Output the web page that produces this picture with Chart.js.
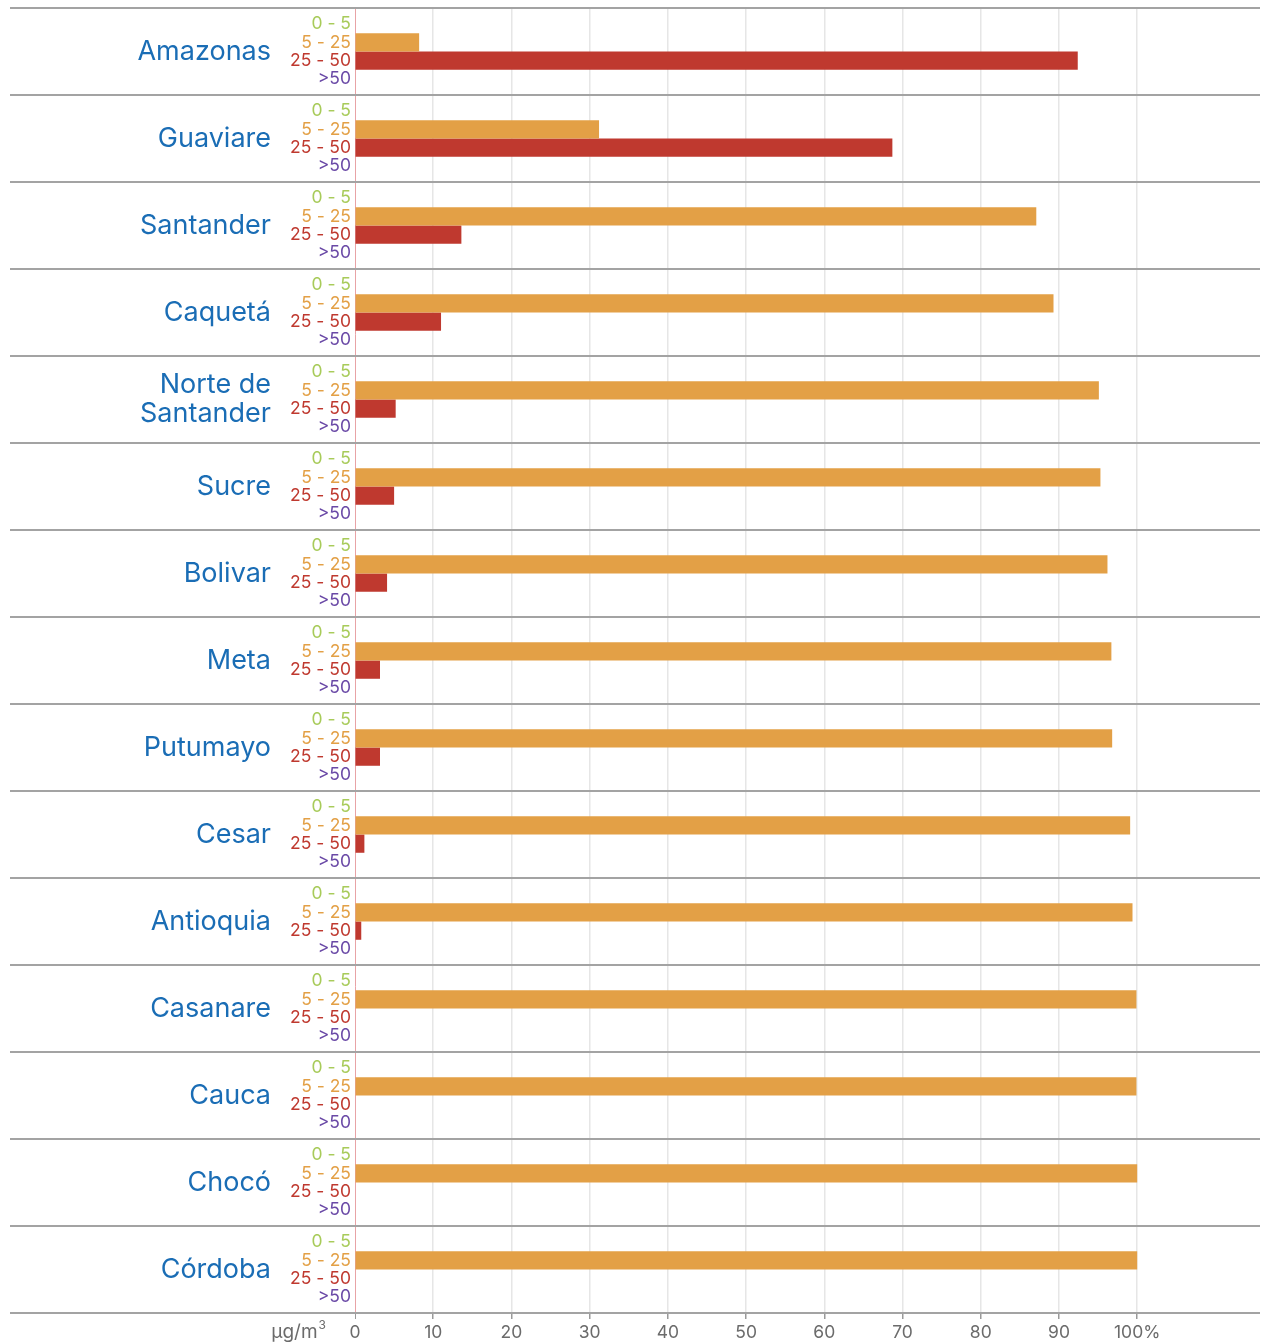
<!DOCTYPE html>
<html>
<head>
<meta charset="utf-8">
<script src="https://cdn.jsdelivr.net/npm/chart.js@4.4.1/dist/chart.umd.min.js"></script>
<style>
  html, body { margin: 0; padding: 0; background: #fff; overflow: hidden; }
  canvas { display: block; }
</style>
</head>
<body>
<canvas id="pmChart" width="1261" height="1344"></canvas>
<script>
const departamentos = [
  "Amazonas", "Guaviare", "Santander", "Caquetá", ["Norte de", "Santander"],
  "Sucre", "Bolivar", "Meta", "Putumayo", "Cesar",
  "Antioquia", "Casanare", "Cauca", "Chocó", "Córdoba"
];

const rangos = ["0 - 5", "5 - 25", "25 - 50", ">50"];
const coloresRango = ["#a8cb5a", "#e3a046", "#bf392f", "#6a49a6"];

// porcentaje de estaciones por rango de concentración
const rango0a5   = [0, 0, 0, 0, 0, 0, 0, 0, 0, 0, 0, 0, 0, 0, 0];
const rango5a25  = [8.2, 31.2, 87.1, 89.3, 95.1, 95.3, 96.2, 96.7, 96.8, 99.1, 99.4, 99.9, 99.9, 100, 100];
const rango25a50 = [92.4, 68.7, 13.6, 11.0, 5.2, 5.0, 4.1, 3.2, 3.2, 1.2, 0.8, 0, 0, 0, 0];
const rangoMas50 = [0, 0, 0, 0, 0, 0, 0, 0, 0, 0, 0, 0, 0, 0, 0];

const xTicks = [0, 10, 20, 30, 40, 50, 60, 70, 80, 90, 100];
const unidad = "µg/m";
const unidadExp = "3";

const FONT = "Inter, 'Open Sans', sans-serif";

// separadores horizontales, etiquetas de rango y unidad
const decoraciones = {
  id: 'decoraciones',
  afterDraw(chart) {
    const ctx = chart.ctx;
    const area = chart.chartArea;
    const y = chart.scales.y;
    const n = departamentos.length;
    const paso = (y.bottom - y.top) / n;

    ctx.save();
    ctx.strokeStyle = '#a3a3a3';
    ctx.lineWidth = 2;
    for (let k = 0; k <= n; k++) {
      const py = Math.round(y.top + k * paso);
      ctx.beginPath();
      ctx.moveTo(10, py);
      ctx.lineTo(area.right, py);
      ctx.stroke();
    }

    ctx.font = "17.5px " + FONT;
    ctx.textAlign = 'right';
    ctx.textBaseline = 'middle';
    chart.data.datasets.forEach((ds, d) => {
      const meta = chart.getDatasetMeta(d);
      ctx.fillStyle = coloresRango[d];
      meta.data.forEach(bar => {
        ctx.fillText(rangos[d], area.left - 4, bar.y);
      });
    });

    // unidad con exponente
    ctx.fillStyle = '#6b6b6b';
    ctx.textAlign = 'right';
    ctx.textBaseline = 'alphabetic';
    const base = chart.scales.x.bottom - 6;
    ctx.font = "12px " + FONT;
    const expX = area.left - 29;
    ctx.fillText(unidadExp, expX, base - 9);
    const wExp = ctx.measureText(unidadExp).width;
    ctx.font = "19px " + FONT;
    ctx.fillText(unidad, expX - wExp - 1, base);
    ctx.restore();
  }
};

new Chart(document.getElementById('pmChart'), {
  type: 'bar',
  data: {
    labels: departamentos,
    datasets: [
      { label: rangos[0], data: rango0a5, backgroundColor: coloresRango[0] },
      { label: rangos[1], data: rango5a25, backgroundColor: coloresRango[1] },
      { label: rangos[2], data: rango25a50, backgroundColor: coloresRango[2] },
      { label: rangos[3], data: rangoMas50, backgroundColor: coloresRango[3] }
    ]
  },
  options: {
    indexAxis: 'y',
    responsive: false,
    animation: false,
    categoryPercentage: 0.84,
    barPercentage: 1,
    layout: { padding: { top: 8, right: 1, left: 0, bottom: 0 } },
    plugins: {
      legend: { display: false },
      tooltip: { enabled: false }
    },
    scales: {
      x: {
        min: 0,
        max: 115.7,
        afterBuildTicks(scale) {
          scale.ticks = xTicks.map(v => ({ value: v }));
        },
        afterFit(scale) {
          scale.height = 31;
          scale.paddingLeft = 0;
          scale.paddingRight = 0;
        },
        border: { display: false },
        grid: {
          color: c => c.tick && c.tick.value === 0 ? '#e8a3a6' : '#e6e6e6',
          lineWidth: c => c.tick && c.tick.value === 0 ? 1 : 1.5,
          drawTicks: true,
          tickLength: 6,
          tickColor: '#9a9a9a'
        },
        ticks: {
          padding: 3,
          color: '#6b6b6b',
          font: { family: FONT, size: 17.5 },
          callback: v => v === 100 ? '100%' : v
        }
      },
      y: {
        afterFit(scale) {
          scale.width = 355;
          scale.paddingTop = 0;
          scale.paddingBottom = 0;
        },
        border: { display: false },
        grid: { display: false, drawTicks: false },
        ticks: {
          padding: 84,
          color: '#1a6db5',
          font: { family: FONT, size: 27, lineHeight: 1.08 }
        }
      }
    }
  },
  plugins: [decoraciones]
});
</script>
</body>
</html>
